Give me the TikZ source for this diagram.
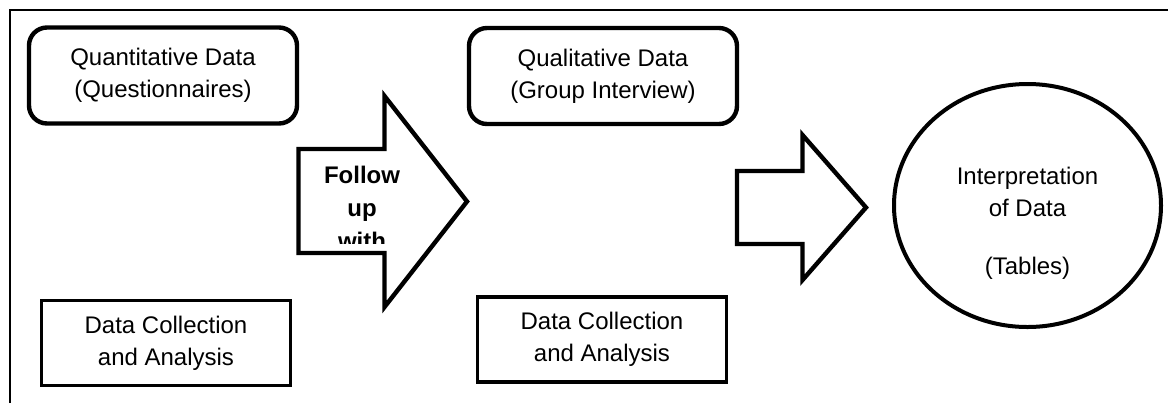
\documentclass[tikz,border=0pt]{standalone}
\usepackage{fontspec}
\setmainfont{Liberation Sans}
\usetikzlibrary{shapes.geometric}

\begin{document}
\begin{tikzpicture}[x=0.5pt, y=-0.5pt,
    every node/.style={font=\fontsize{12}{15.8}\selectfont, align=center, inner sep=0pt},
    rbox/.style={draw, line width=2.2pt, rounded corners=9pt, minimum width=134pt, minimum height=48pt},
    dbox/.style={draw, line width=1.7pt, minimum width=124.5pt, minimum height=42.5pt},
    bigarrow/.style={draw, line width=2.2pt, line join=miter}]

    % --- 1. 描画範囲と外枠 ---
    \useasboundingbox (0,0) rectangle (1168,403);
    \draw[line width=1pt] (10,403) -- (10,10) -- (1168,10);

    % --- 2. 四角のノード ---
    \node[rbox] (quant) at (163,75.5) {Quantitative Data\\(Questionnaires)};
    \node[rbox] (qual)  at (603,76)   {Qualitative Data\\(Group Interview)};
    \node[dbox] (dcA)   at (166,343)  {Data Collection\\and Analysis};
    \node[dbox] (dcB)   at (602,339.5) {Data Collection\\and Analysis};

    % --- 3. 楕円 (解釈) ---
    \node[draw, ellipse, line width=2pt, minimum width=133.5pt, minimum height=121.5pt] (interp) at (1027.5,205.5) {};
    \node (interpText) at ([yshift=-9pt]interp.center) {Interpretation\\of Data\\[13.5pt](Tables)};

    % --- 4. 太い矢印 ---
    \draw[bigarrow] (298.5,149) -- (384.5,149) -- (384.5,96) -- (467,201.5)
      -- (384.5,307) -- (384.5,253) -- (298.5,253) -- cycle;
    \draw[bigarrow] (737,171) -- (802.5,171) -- (802.5,135) -- (866,207.5)
      -- (802.5,280) -- (802.5,244) -- (737,244) -- cycle;

    % 矢印の中の文字 (下が切れている)
    \begin{scope}
      \clip (290,150) rectangle (470,243);
      \node[font=\bfseries\fontsize{12}{16.5}\selectfont, anchor=north] (follow) at (362,166) {Follow\\up\\with};
    \end{scope}

\end{tikzpicture}
\end{document}
